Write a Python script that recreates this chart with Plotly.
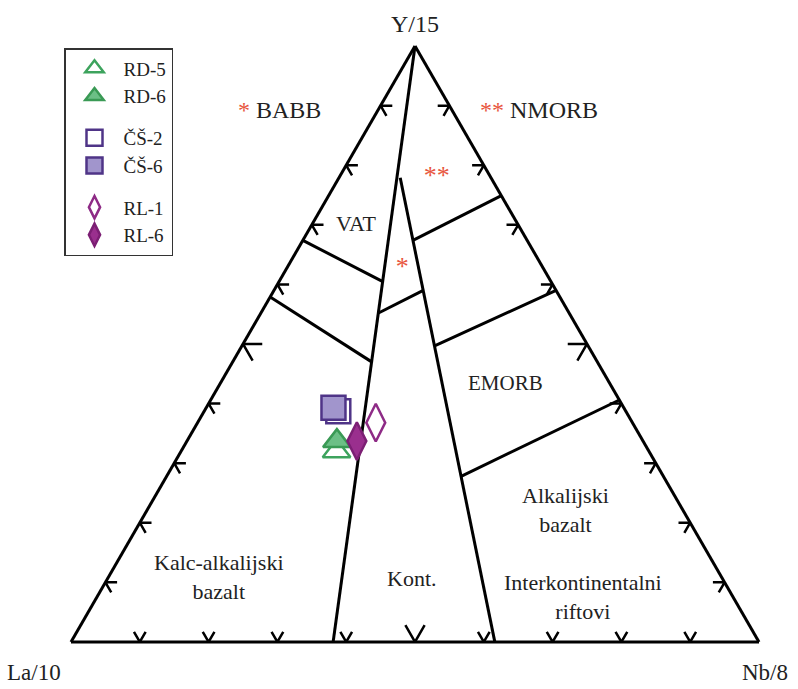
import plotly.graph_objects as go

W, H = 798, 689

# sample compositions (normalised Y/15, Nb/8; La/10 is the rest)
samples = ["RD-5", "RD-6", "ČŠ-2", "ČŠ-6", "RL-1", "RL-6"]
y15 = [0.320, 0.337, 0.387, 0.393, 0.368, 0.337]
nb8 = [0.226, 0.218, 0.195, 0.185, 0.259, 0.247]
la10 = [round(1 - a - c, 3) for a, c in zip(y15, nb8)]

symbols = ["triangle-up-open", "triangle-up", "square-open", "square",
           "diamond-tall-open", "diamond-tall"]
fills = ["#3da35d", "#6cbf86", "#4f3487", "#a195cc", "#8e2b86", "#9a2f8e"]
edges = ["#3da35d", "#3a9a55", "#4f3487", "#4f3487", "#8e2b86", "#7c1f74"]

# field boundaries as (Y/15, Nb/8) end points
bounds = [
    [(1.000, 0.000), (0.000, 0.381)],
    [(0.779, 0.089), (0.000, 0.616)],
    [(0.674, 0.000), (0.605, 0.150)],
    [(0.579, 0.000), (0.470, 0.202)],
    [(0.552, 0.171), (0.590, 0.217)],
    [(0.674, 0.160), (0.749, 0.251)],
    [(0.497, 0.280), (0.590, 0.410)],
    [(0.278, 0.428), (0.406, 0.594)],
]

# edge tick marks (every tenth, the middle one larger)
tick_pos = [0.1, 0.2, 0.3, 0.4, 0.5, 0.6, 0.7, 0.8, 0.9]

# field markers (asterisks)
star_text = ["*", "**"]
star_a = [0.627, 0.779]
star_c = [0.168, 0.142]

fig = go.Figure()

# boundaries
ba, bb, bc = [], [], []
for seg in bounds:
    for a, c in seg:
        ba.append(a); bc.append(c); bb.append(1 - a - c)
    ba.append(None); bb.append(None); bc.append(None)
fig.add_trace(go.Scatterternary(a=ba, b=bb, c=bc, mode="lines",
                                line=dict(color="black", width=3),
                                hoverinfo="skip", showlegend=False))

# chevrons on the three sides
ta, tb, tc = [], [], []
for t in tick_pos:
    d = 0.028 if t == 0.5 else 0.017
    # left side
    pts = [(t, 1 - t - d, d), (t, 1 - t, 0), (t - d, 1 - t, d)]
    # right side
    pts += [None, (t, d, 1 - t - d), (t, 0, 1 - t), (t - d, d, 1 - t)]
    # bottom
    pts += [None, (d, 1 - t, t - d), (0, 1 - t, t), (d, 1 - t - d, t)]
    for p in pts + [None]:
        if p is None:
            ta.append(None); tb.append(None); tc.append(None)
        else:
            ta.append(p[0]); tb.append(p[1]); tc.append(p[2])
fig.add_trace(go.Scatterternary(a=ta, b=tb, c=tc, mode="lines",
                                line=dict(color="black", width=2.5),
                                hoverinfo="skip", showlegend=False))

fig.add_trace(go.Scatterternary(
    a=star_a, c=star_c, b=[1 - a - c for a, c in zip(star_a, star_c)],
    mode="text", text=star_text,
    textfont=dict(family="Liberation Serif", size=26, color="#e8553d"),
    hoverinfo="skip", showlegend=False))

groups = ["rd", "rd", "cs", "cs", "rl", "rl"]
for i, name in enumerate(samples):
    fig.add_trace(go.Scatterternary(
        a=[y15[i]], b=[la10[i]], c=[nb8[i]], mode="markers", name=name,
        legendgroup=groups[i],
        marker=dict(symbol=symbols[i], size=24 if "diamond" not in symbols[i] else 27,
                    color=fills[i], line=dict(color=edges[i], width=2.5)),
    ))

axis = dict(showline=True, linecolor="black", linewidth=3, showgrid=False,
            showticklabels=False, ticks="", title=dict(text=""))

fig.update_layout(
    width=W, height=H,
    margin=dict(l=0, r=0, t=0, b=0),
    paper_bgcolor="white",
    font=dict(family="Liberation Serif, Times New Roman, serif", color="#222222", size=20),
    ternary=dict(
        domain=dict(x=[71 / W, 759 / W], y=[1 - 643 / H, 1 - 45 / H]),
        bgcolor="white", sum=1,
        aaxis=axis, baxis=axis, caxis=axis,
    ),
    legend=dict(x=64 / W, y=1 - 48 / H, xanchor="left", yanchor="top",
                bgcolor="white", bordercolor="#333333", borderwidth=1.5,
                font=dict(size=19, family="Liberation Serif", color="#222222"),
                traceorder="grouped", tracegroupgap=14, itemwidth=48),
)


def note(text, x, y, size=22, anchor="center"):
    fig.add_annotation(text=text, x=x / W, y=1 - y / H, xref="paper", yref="paper",
                       showarrow=False, xanchor=anchor, yanchor="middle",
                       font=dict(size=size, family="Liberation Serif", color="#222222"))


star = "<span style='color:#e8553d'>%s</span>"
note("Y/15", 415, 24, 24)
note("La/10", 34, 672, 23)
note("Nb/8", 765, 672, 23)
note(star % "*" + " BABB", 236, 110, 24, "left")
note(star % "**" + " NMORB", 478, 110, 24, "left")
note("VAT", 356, 223)
note("EMORB", 505, 383, 21)
note("Alkalijski<br>bazalt", 565, 510)
note("Kalc-alkalijski<br>bazalt", 219, 577)
note("Kont.", 412, 578)
note("Interkontinentalni<br>riftovi", 583, 597)

fig.write_html("out.html", config={"displayModeBar": False},
               post_script="document.body.style.margin='0';")
